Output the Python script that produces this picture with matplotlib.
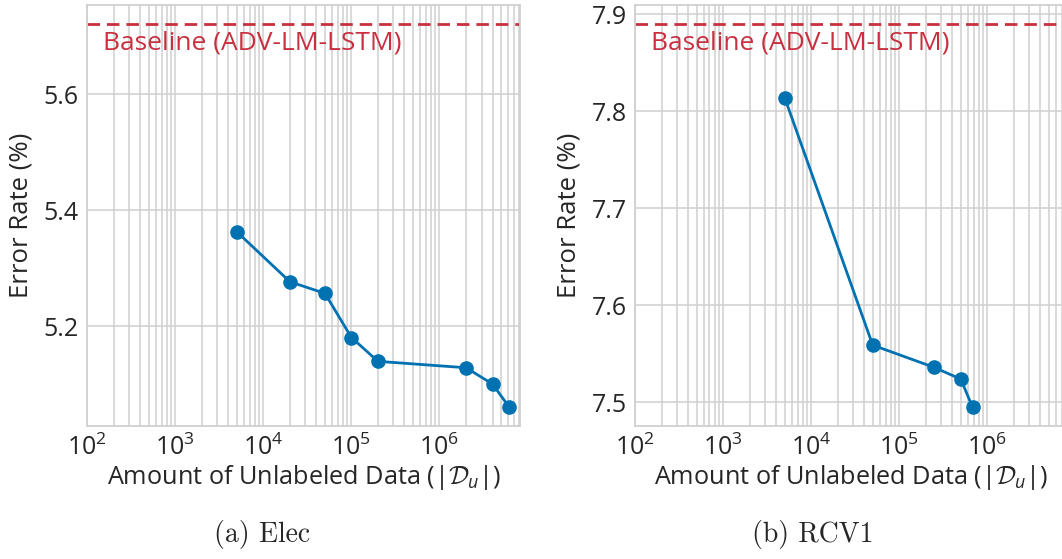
import matplotlib
matplotlib.use("Agg")
import matplotlib.pyplot as plt
import seaborn as sns

# data
elec_x = [5e3, 2e4, 5e4, 1e5, 2e5, 2e6, 4e6, 6.2e6]
elec_err = [5.363, 5.277, 5.257, 5.181, 5.140, 5.129, 5.101, 5.061]
elec_base = 5.721

rcv1_x = [5e3, 5e4, 2.5e5, 5e5, 6.8e5]
rcv1_err = [7.814, 7.559, 7.536, 7.524, 7.495]
rcv1_base = 7.890

captions = ["(a) Elec", "(b) RCV1"]

sns.set_style("whitegrid")
plt.rcParams['font.family'] = ['Open Sans', 'DejaVu Sans']
plt.rcParams['mathtext.fontset'] = 'custom'
plt.rcParams['mathtext.rm'] = 'Open Sans'
plt.rcParams['mathtext.it'] = 'Open Sans:italic'
plt.rcParams['mathtext.cal'] = 'cmsy10'

blue = '#0072B2'
red = '#C8303F'

fig = plt.figure(figsize=(10.62, 5.59), dpi=100)
ax1 = fig.add_axes([0.0822, 0.2372, 0.4074, 0.7544])
ax2 = fig.add_axes([0.598, 0.2372, 0.4074, 0.7544])

for ax, xs, ys, base in [(ax1, elec_x, elec_err, elec_base),
                         (ax2, rcv1_x, rcv1_err, rcv1_base)]:
    ax.plot(xs, ys, color=blue, lw=2, marker='o', ms=9.5, zorder=3)
    ax.axhline(base, color=red, lw=2, ls=(0, (4.5, 2.5)), zorder=2)
    ax.annotate("Baseline (ADV-LM-LSTM)", xy=(150, base), xytext=(0, -5),
                textcoords='offset points', va='top', ha='left',
                color=red, fontsize=19)
    ax.set_xscale('log')
    ax.set_xlim(100, 8.2e6)
    ax.grid(True, which='both', color='#d0d0d0', lw=1.1)
    for s in ax.spines.values():
        s.set_color('#d0d0d0')
        s.set_linewidth(1.3)
    ax.tick_params(which='both', length=0, labelsize=18, labelcolor='#262626', pad=6)
    ax.set_xlabel(r"Amount of Unlabeled Data $(|\mathcal{D}_u|)$", fontsize=18.2,
                  color='#262626', labelpad=1)
    ax.set_ylabel("Error Rate (%)", fontsize=18.5, color='#262626', labelpad=7)

ax1.set_yticks([5.2, 5.4, 5.6])
ax2.set_yticks([7.5, 7.6, 7.7, 7.8, 7.9])

fig.text(0.247, 0.043, captions[0], ha='center', va='center', fontsize=20, family='cmr10')
fig.text(0.765, 0.043, captions[1], ha='center', va='center', fontsize=20, family='cmr10')

fig.savefig("out.png", dpi=100)
